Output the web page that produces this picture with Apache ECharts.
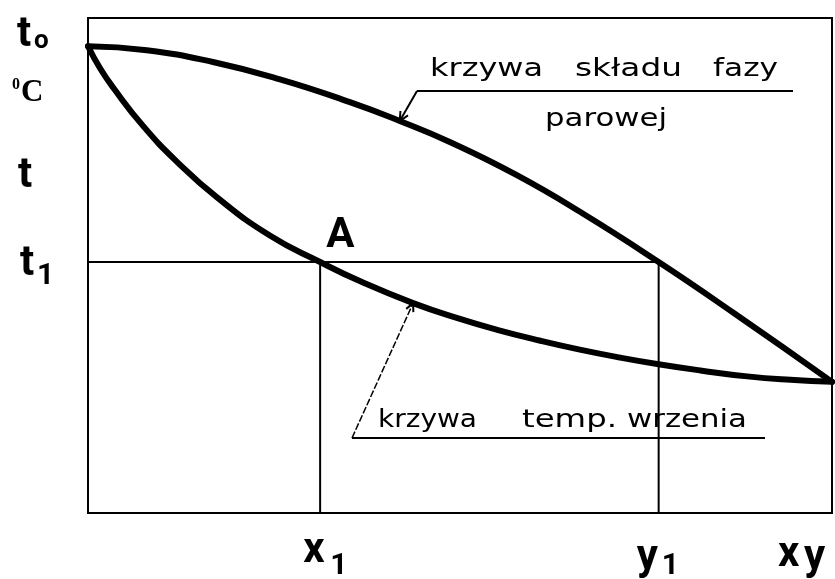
<!DOCTYPE html>
<html>
<head>
<meta charset="utf-8">
<script src="https://cdn.jsdelivr.net/npm/echarts@6/dist/echarts.min.js"></script>
<style>
  html, body { margin: 0; padding: 0; background: #fff; }
  #chart { width: 835px; height: 579px; }
</style>
</head>
<body>
<div id="chart"></div>
<script>
// Boiling-point diagram of a binary mixture: temperature vs. composition.
// x = mole fraction of the more volatile component, t = temperature (relative units).

// Vapour composition curve (dew curve)
const vaporX = [0, 0.079, 0.168, 0.258, 0.352, 0.419, 0.487, 0.577, 0.665, 0.767, 0.867, 1.0];
const vaporT = [94.3, 93.5, 91.1, 87.6, 83.0, 79.2, 74.9, 68.2, 60.5, 50.7, 40.5, 26.5];

// Boiling-temperature curve (liquid composition)
const liquidX = [0, 0.016, 0.034, 0.074, 0.120, 0.173, 0.245, 0.312, 0.366, 0.437, 0.5, 0.550, 0.608, 0.661, 0.715, 0.769, 0.823, 0.886, 0.944, 1.0];
const liquidT = [94.3, 89.9, 85.9, 78.2, 70.9, 63.8, 56.0, 50.7, 46.8, 42.4, 39.2, 37.0, 34.8, 33.0, 31.4, 30.0, 28.8, 27.6, 26.9, 26.5];

// Characteristic values
const T0 = 94.3;   // boiling point of the pure component
const T1 = 50.7;   // chosen temperature t1
const X1 = 0.312;  // liquid composition at t1 (point A)
const Y1 = 0.767;  // vapour composition at t1

// Axis symbols and annotation texts
const yAxisSymbols = ['t', 'o', '0', 'C', 't', 't', '1'];
const xAxisSymbols = ['x', '1', 'y', '1', 'x', 'y'];
const pointLabel = 'A';
const vaporCaption = ['krzywa', 'składu', 'fazy', 'parowej'];
const liquidCaption = ['krzywa', 'temp.', 'wrzenia'];

const pairs = (xs, ys) => xs.map((x, i) => [x, ys[i]]);

const chart = echarts.init(document.getElementById('chart'), null, { renderer: 'canvas' });

const curveStyle = { color: '#000', width: 6, cap: 'round', join: 'round' };
const thinStyle = { color: '#000', width: 2 };

chart.setOption({
  animation: false,
  backgroundColor: '#fff',
  grid: {
    left: 88, right: 3, top: 18, bottom: 66,
    show: true, borderColor: '#000', borderWidth: 2, backgroundColor: 'transparent'
  },
  xAxis: { type: 'value', min: 0, max: 1, show: false },
  yAxis: { type: 'value', min: 0, max: 100, show: false },
  series: [
    {
      name: 'vapour', type: 'line', data: pairs(vaporX, vaporT),
      smooth: 0.5, symbol: 'none', clip: false,
      lineStyle: curveStyle
    },
    {
      name: 'liquid', type: 'line', data: pairs(liquidX, liquidT),
      smooth: 0.5, symbol: 'none', clip: false,
      lineStyle: curveStyle
    },
    {
      name: 't1 isotherm', type: 'line', data: [[0, T1], [Y1, T1]],
      symbol: 'none', clip: false, lineStyle: thinStyle
    },
    {
      name: 'x1', type: 'line', data: [[X1, T1], [X1, 0]],
      symbol: 'none', clip: false, lineStyle: thinStyle
    },
    {
      name: 'y1', type: 'line', data: [[Y1, T1], [Y1, 0]],
      symbol: 'none', clip: false, lineStyle: thinStyle
    }
  ]
});

// ---- labels and leader lines placed from the grid's coordinate system ----
const px = (x, y) => chart.convertToPixel({ gridIndex: 0 }, [x, y]);
const measureCtx = document.createElement('canvas').getContext('2d');

const BIG = 'bold 42px Roboto';
const SUB = 'bold 30px Roboto';
const CAPTION = '25px "DejaVu Sans"';

function text(str, x, y, font, extra) {
  return Object.assign({
    type: 'text', x: x, y: y, silent: true,
    style: { text: str, font: font, fill: '#000', align: 'left', verticalAlign: 'middle' }
  }, extra || {});
}

// A word stretched horizontally to span [x0, x1]
function word(str, x0, x1, y, font) {
  measureCtx.font = font;
  const w = measureCtx.measureText(str).width;
  return text(str, x0, y, font, { scaleX: (x1 - x0) / w });
}

function line(a, b, width, dash) {
  return {
    type: 'line', silent: true,
    shape: { x1: a[0], y1: a[1], x2: b[0], y2: b[1] },
    style: { stroke: '#000', lineWidth: width, lineDash: dash || null }
  };
}

function arrowHead(from, tip, len) {
  const dx = tip[0] - from[0], dy = tip[1] - from[1];
  const d = Math.hypot(dx, dy);
  const ux = dx / d, uy = dy / d;
  const ang = 0.45;
  const p1 = [tip[0] - len * (ux * Math.cos(ang) - uy * Math.sin(ang)),
              tip[1] - len * (uy * Math.cos(ang) + ux * Math.sin(ang))];
  const p2 = [tip[0] - len * (ux * Math.cos(-ang) - uy * Math.sin(-ang)),
              tip[1] - len * (uy * Math.cos(-ang) + ux * Math.sin(-ang))];
  return {
    type: 'polyline', silent: true,
    shape: { points: [p1, tip, p2] },
    style: { stroke: '#000', lineWidth: 2, fill: null }
  };
}

const pT0 = px(0, T0);
const pT1 = px(0, T1);
const pA = px(X1, T1);
const pY1 = px(Y1, T1);
const pBase = px(0, 0);
const pEnd = px(1, 0);
const bottom = pBase[1];

// leader targets on the curves
const vaporTip = px(vaporX[5], vaporT[5]);
const liquidTip = px(liquidX[9], liquidT[9]);

const underline1 = [[417, 91], [793, 91]];
const underline2 = [[352, 438], [765, 438]];

const graphics = [
  // temperature axis symbols
  text(yAxisSymbols[0], 17, pT0[1] - 11, BIG),
  text(yAxisSymbols[1], 34, pT0[1] - 5, 'bold 26px Roboto'),
  text(yAxisSymbols[2], 12, 85, 'bold 16px "Liberation Serif"'),
  text(yAxisSymbols[3], 21, 93, 'bold 31px "Liberation Serif"'),
  text(yAxisSymbols[4], 18, 176, BIG),
  text(yAxisSymbols[5], 20, pT1[1] + 2, BIG),
  text(yAxisSymbols[6], 37, pT1[1] + 14, SUB),

  // composition axis symbols
  text(xAxisSymbols[0], pA[0] - 17, bottom + 38, BIG),
  text(xAxisSymbols[1], pA[0] + 10, bottom + 53, SUB),
  text(xAxisSymbols[2], pY1[0] - 22, bottom + 45, BIG),
  text(xAxisSymbols[3], pY1[0] + 3, bottom + 53, SUB),
  text(xAxisSymbols[4], pEnd[0] - 54, bottom + 42, BIG),
  text(xAxisSymbols[5], pEnd[0] - 28, bottom + 45, BIG),

  // point A
  text(pointLabel, pA[0] + 6, pA[1] - 26, BIG),

  // vapour-curve caption
  word(vaporCaption[0], 430, 543, 69, CAPTION),
  word(vaporCaption[1], 575, 682, 69, CAPTION),
  word(vaporCaption[2], 713, 778, 69, CAPTION),
  word(vaporCaption[3], 545, 667, 119, CAPTION),
  line(underline1[0], underline1[1], 2),
  line(underline1[0], vaporTip, 2),
  arrowHead(underline1[0], vaporTip, 10),

  // boiling-curve caption
  word(liquidCaption[0], 378, 477, 420, CAPTION),
  word(liquidCaption[1], 522, 617, 420, CAPTION),
  word(liquidCaption[2], 627, 747, 420, CAPTION),
  line(underline2[0], underline2[1], 2),
  line(underline2[0], liquidTip, 1.5, [7, 2]),
  arrowHead(underline2[0], liquidTip, 9)
];

chart.setOption({ graphic: graphics });
</script>
</body>
</html>
